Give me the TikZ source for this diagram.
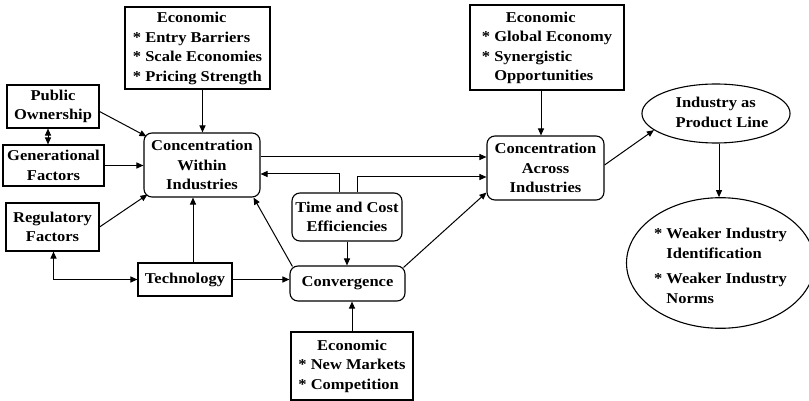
\documentclass[tikz,border=0pt]{standalone}
\usepackage{fontspec}
\setmainfont{Liberation Serif}[FakeStretch=1.1]
\usetikzlibrary{arrows.meta,calc,shapes.geometric}
\begin{document}
\begin{tikzpicture}[x=1pt,y=-1pt,
  every node/.style={font=\fontsize{15}{19.5}\selectfont\bfseries, inner sep=0pt, align=center},
  box/.style={draw, line width=1.1pt},
  rbox/.style={box, rounded corners=8pt},
  oval/.style={draw, line width=1.1pt, ellipse},
  conn/.style={line width=1pt, -{Triangle[length=7pt,width=6pt]}},
  biconn/.style={line width=1pt, {Triangle[length=7pt,width=6pt]}-{Triangle[length=7pt,width=6pt]}}
]
\fill[white] (0,0) rectangle (809,401);
\path[use as bounding box] (0,0) rectangle (809,401);

\node[box, minimum width=145pt, minimum height=82pt] (econA) at (197.5,48)
  {\begin{tabular}{@{}l@{}}\hspace{24pt}Economic\\{*} Entry Barriers\\{*} Scale Economies\\{*} Pricing Strength\end{tabular}};
\node[box, minimum width=92pt, minimum height=43pt] (pub) at (53,106.5) {Public\\Ownership};
\node[box, minimum width=101pt, minimum height=41pt] (gen) at (53.5,165.5) {Generational\\Factors};
\node[box, minimum width=93pt, minimum height=48pt] (reg) at (52.5,227) {Regulatory\\Factors};
\node[rbox, minimum width=116pt, minimum height=64pt] (cwi) at (202,165) {Concentration\\Within\\Industries};
\node[box, minimum width=94pt, minimum height=33pt] (tech) at (185,279.5) {Technology};
\node[rbox, minimum width=110pt, minimum height=48pt] (tce) at (347,217) {Time and Cost\\Efficiencies};
\node[rbox, minimum width=115pt, minimum height=35pt] (conv) at (347.5,283.5) {Convergence};
\node[box, minimum width=122pt, minimum height=68pt] (econC) at (352,366)
  {\begin{tabular}{@{}l@{}}\multicolumn{1}{@{}c@{}}{Economic}\\{*} New Markets\\{*} Competition\end{tabular}};
\node[box, minimum width=154pt, minimum height=85pt] (econB) at (547,47.5)
  {\begin{tabular}{@{}l@{}}\hspace{24pt}Economic\\{*} Global Economy\\{*} Synergistic\\\phantom{* }Opportunities\end{tabular}};
\node[rbox, minimum width=117pt, minimum height=64pt] (ca) at (545.5,168) {Concentration\\Across\\Industries};
\node[oval, minimum width=124pt, minimum height=59pt] (ipl) at (716,113.5)
  {\begin{tabular}{@{}l@{}}\hspace*{12pt}Industry as\\\hspace*{12pt}Product Line\end{tabular}};
\node[oval, minimum width=175pt, minimum height=118pt] (weak) at (720.5,263)
  {\begin{tabular}{@{}l@{}}\rule{0pt}{22pt}{*} Weaker Industry\\\phantom{* }Identification\\[6pt]{*} Weaker Industry\\\phantom{* }Norms\end{tabular}};

\coordinate (a1) at ($(econA.south)+(5,0)$);
\draw[conn] (a1) -- (a1 |- cwi.north);
\draw[conn] ($(pub.east)+(0,5)$) -- ($(cwi.north west)+(3,4)$);
\coordinate (a2) at ($(pub.south)+(-5,0)$);
\draw[biconn] (a2) -- (a2 |- gen.north);
\draw[conn] (gen.east) -- (gen.east -| cwi.west);
\draw[conn] (reg.east) -- ($(cwi.south west)+(4,-3)$);
\draw[biconn] ($(reg.south)+(1,0)$) |- (tech.west);
\coordinate (a3) at ($(tech.north)+(8,0)$);
\draw[conn] (a3) -- (a3 |- cwi.south);
\draw[conn] (tech.east) -- (tech.east -| conv.west);
\draw[conn] ($(conv.north west)+(3,1)$) -- ($(cwi.south east)+(-7,0)$);
\draw[conn] (tce.south) -- (tce.south |- conv.north);
\draw[conn] (econC.north) -- (econC.north |- conv.south);
\coordinate (a4) at ($(tce.north)+(-8,0)$);
\draw[conn] (a4) |- ($(cwi.east)+(0,9)$);
\coordinate (a5) at ($(tce.north)+(10,0)$);
\draw[conn] (a5) |- ($(ca.west)+(0,9)$);
\draw[conn] ($(cwi.east)+(0,-8)$) -- ($(ca.west)+(0,-11)$);
\draw[conn] ($(conv.north east)+(-2,2)$) -- ($(ca.south west)+(0,-8)$);
\coordinate (a6) at ($(econB.south)+(-6,0)$);
\draw[conn] (a6) -- (a6 |- ca.north);
\draw[conn] ($(ca.east)+(0,-3)$) -- (ipl.195);
\coordinate (a7) at ($(ipl.south)+(3,0)$);
\draw[conn] (a7) -- (a7 |- weak.north);
\end{tikzpicture}
\end{document}
